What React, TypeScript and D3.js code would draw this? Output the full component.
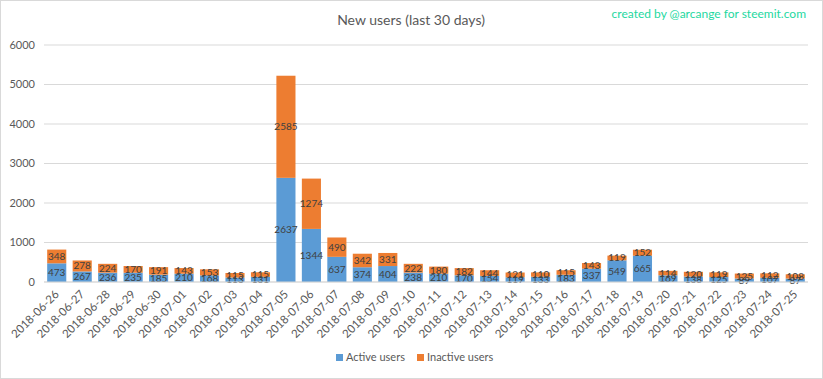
import React from "react";
import * as d3 from "d3";

const dates = [
  "2018-06-26","2018-06-27","2018-06-28","2018-06-29","2018-06-30","2018-07-01","2018-07-02","2018-07-03","2018-07-04","2018-07-05",
  "2018-07-06","2018-07-07","2018-07-08","2018-07-09","2018-07-10","2018-07-11","2018-07-12","2018-07-13","2018-07-14","2018-07-15",
  "2018-07-16","2018-07-17","2018-07-18","2018-07-19","2018-07-20","2018-07-21","2018-07-22","2018-07-23","2018-07-24","2018-07-25",
];
const active = [473,267,236,235,185,210,168,113,131,2637,1344,637,374,404,238,210,170,154,119,133,183,337,549,665,169,138,125,89,107,87];
const inactive = [348,278,224,170,191,143,153,115,115,2585,1274,490,342,331,222,180,182,144,121,110,115,143,119,152,114,120,119,125,112,108];
const yTicks = [0,1000,2000,3000,4000,5000,6000];
const seriesNames = ["Active users", "Inactive users"];
const colors = ["#5b9bd5", "#ed7d31"];

const W = 823, H = 379;
const FONT = "Lato, 'Open Sans', sans-serif";

export default function App() {
  const x = d3.scaleBand<string>().domain(dates).range([44, 808]).paddingInner(0.25).paddingOuter(0.125);
  const y = d3.scaleLinear().domain([0, 6000]).range([282, 45]);
  const stack = dates.map((d, i) => ({ d, a: active[i], b: inactive[i] }));
  return (
    <div style={{ position: "absolute", left: 0, top: 0 }}>
      <svg width={W} height={H} style={{ display: "block", fontFamily: FONT }}>
        <rect x={0.5} y={0.5} width={W - 1} height={H - 1} fill="#fff" stroke="#d9d9d9" />
        <text x={411} y={25} textAnchor="middle" fontSize={14} fill="#595959">New users (last 30 days)</text>
        <text x={806} y={18} textAnchor="end" fontSize={12} fill="#1ed8a0">created by @arcange for steemit.com</text>
        {yTicks.map(t => (
          <g key={t}>
            <line x1={44} x2={808} y1={y(t)} y2={y(t)} stroke="#d9d9d9" strokeWidth={1} />
            <text x={35} y={y(t)} dy="0.35em" textAnchor="end" fontSize={11} fill="#595959">{t}</text>
          </g>
        ))}
        {stack.map(s => {
          const bx = x(s.d)!;
          const bw = x.bandwidth();
          const cx = bx + bw / 2;
          return (
            <g key={s.d}>
              <rect x={bx} width={bw} y={y(s.a)} height={y(0) - y(s.a)} fill={colors[0]} />
              <rect x={bx} width={bw} y={y(s.a + s.b)} height={y(s.a) - y(s.a + s.b)} fill={colors[1]} />
              <text x={cx} y={y(s.a / 2)} dy="0.35em" textAnchor="middle" fontSize={10} fill="#404040">{s.a}</text>
              <text x={cx} y={y(s.a + s.b / 2)} dy="0.35em" textAnchor="middle" fontSize={10} fill="#404040">{s.b}</text>
              <text transform={`translate(${cx + 3},${295}) rotate(-45)`} textAnchor="end" fontSize={11.5} fill="#595959">{s.d}</text>
            </g>
          );
        })}
        <line x1={44} x2={808} y1={y(0)} y2={y(0)} stroke="#d9d9d9" />
        <rect x={336} y={354} width={7} height={7} fill={colors[0]} />
        <text x={346} y={361} fontSize={11} fill="#595959">{seriesNames[0]}</text>
        <rect x={417} y={354} width={7} height={7} fill={colors[1]} />
        <text x={427} y={361} fontSize={11} fill="#595959">{seriesNames[1]}</text>
      </svg>
    </div>
  );
}
